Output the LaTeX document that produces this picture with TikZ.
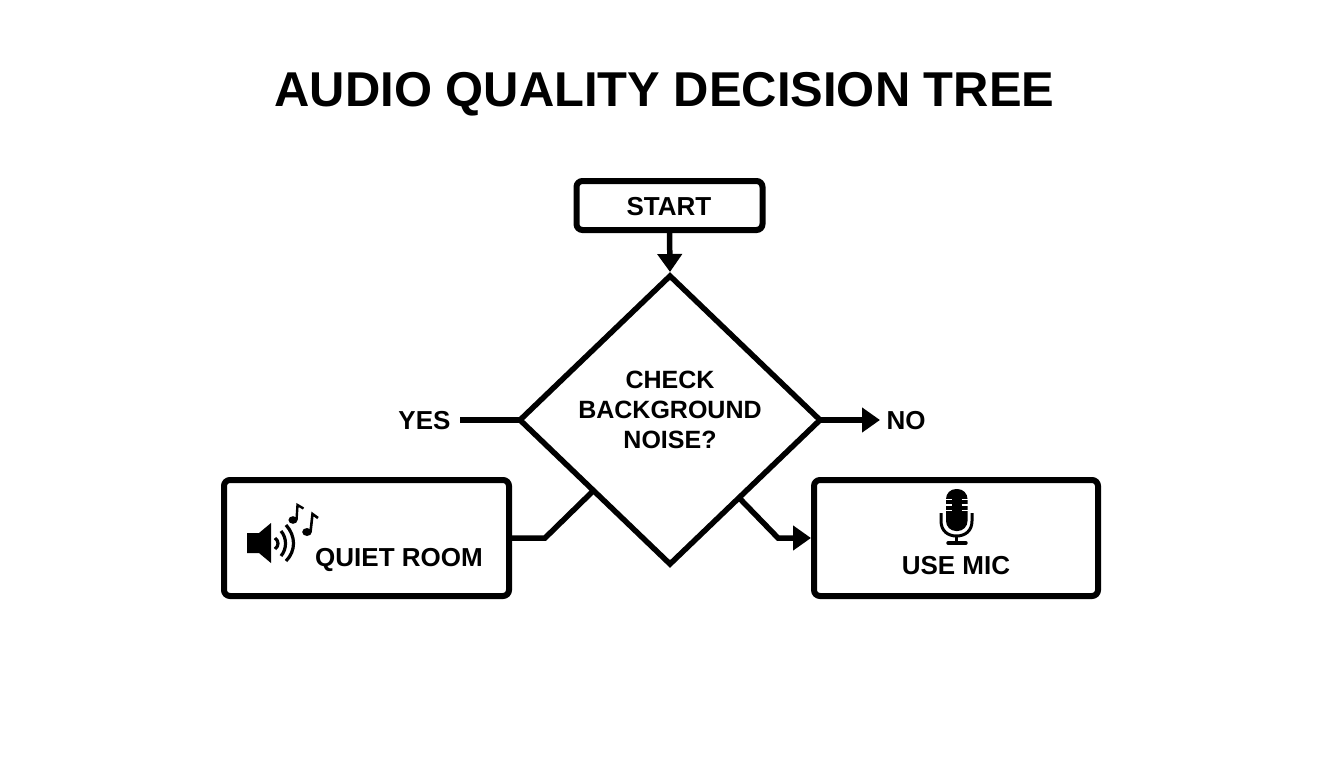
\documentclass[tikz,border=0pt]{standalone}
\usepackage{fontspec}
\setmainfont{Liberation Sans}[BoldFont={Liberation Sans Bold}]
\usetikzlibrary{shapes.geometric,arrows.meta,calc}
\tikzset{
  box/.style={draw=black,line width=6pt,rounded corners=6pt,inner sep=0pt,outer sep=0pt,fill=white},
  decision/.style={diamond,draw=black,line width=5.5pt,inner sep=0pt,outer sep=0pt,fill=white,align=center,
     font=\fontsize{25}{30}\selectfont\bfseries},
  lbl/.style={inner sep=0pt,font=\fontsize{26}{30}\selectfont\bfseries,text height=18.5pt,text depth=0pt},
  conn/.style={line width=5.5pt,draw=black,miter limit=10},
  tip/.style={-{Triangle[length=18pt,width=24pt]}},
  iconline/.style={draw=black,line width=3.2pt},
}
\begin{document}
\begin{tikzpicture}[x=1pt,y=-1pt]
\useasboundingbox (0,0) rectangle (1344,768);
\node[inner sep=0pt,font=\fontsize{48.9}{55}\selectfont\bfseries] (title) at (664.5,94) {AUDIO QUALITY DECISION TREE};

\node[box,minimum width=186pt,minimum height=49pt] (start) at (669.5,205.5) {};
\node[decision,minimum width=300pt,minimum height=288pt] (check) at (670,420) {};
\node[box,minimum width=285pt,minimum height=116pt] (quiet) at (366.5,538) {};
\node[box,minimum width=284pt,minimum height=116pt] (mic) at (956,538) {};

\node[inner sep=0pt,align=center,font=\fontsize{25}{30}\selectfont\bfseries] (checktxt) at (670,410) {CHECK\\BACKGROUND\\NOISE?};
\node[lbl] (starttxt) at (669,206) {START};
\node[lbl] (yes) at (424.5,420) {YES};
\node[lbl] (no) at (906,420) {NO};
\node[lbl] (quiettxt) at (399,557) {QUIET ROOM};
\node[lbl] (mictxt) at (956,565) {USE MIC};

\coordinate (yesend) at (460,420);
\coordinate (noend) at (880,420);
\coordinate (sw) at ($(check.west)!0.49!(check.south)$);
\coordinate (se) at ($(check.east)!0.54!(check.south)$);
\coordinate (apex) at (670,272);

\draw[conn,tip] (start.south) -- (apex);
\draw[conn] (check.west) -- (yesend);
\draw[conn,tip] (check.east) -- (noend);
\draw[conn] (sw) -- (545,538) -- (quiet.east);
\draw[conn,tip,shorten >=3pt] (se) -- (778,538) -- (mic.west);

% speaker icon
\fill (247,533) -- (259,533) -- (271,523) -- (271,563) -- (259,553) -- (247,553) -- cycle;
\draw[iconline] (275,538) .. controls (279,541) and (279,546) .. (275,549);
\draw[iconline] (281,531) .. controls (287,538) and (287,549) .. (281,556);
\draw[iconline] (286,525) .. controls (296,536) and (296,551) .. (286,561);
% notes
\fill (293,520) ellipse [x radius=4.6pt,y radius=3.8pt];
\draw[line width=2.4pt] (296.5,520) -- (297.5,505) -- (303.5,508.5);
\fill (307,532) ellipse [x radius=4.8pt,y radius=4pt];
\draw[line width=2.6pt] (310.5,532) -- (312.5,514) -- (318,518);

% microphone icon
\fill[rounded corners=10pt] (946,489) rectangle (967.5,531);
\foreach \yy in {499.5,505,510.5}{
  \draw[white,line width=1.8pt] (945,\yy) -- (952,\yy);
  \draw[white,line width=1.8pt] (961.5,\yy) -- (968.5,\yy);
}
\draw[draw=black,line width=3pt] (941,513) -- (941,521) .. controls (941,531) and (948,536) .. (956.5,536)
  .. controls (965,536) and (972,531) .. (972,521) -- (972,513);
\draw[draw=black,line width=3pt] (956.5,536) -- (956.5,543);
\draw[draw=black,line width=3.4pt,line cap=round] (948,543) -- (966,543);
\end{tikzpicture}
\end{document}
